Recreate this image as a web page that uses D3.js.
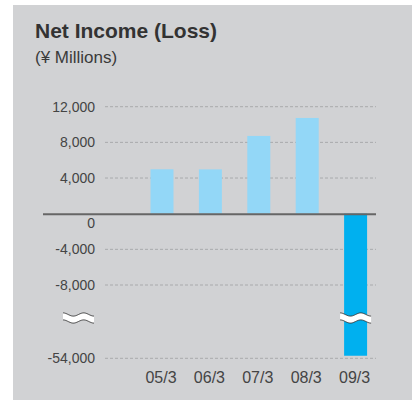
<!DOCTYPE html>
<html>
<head>
<meta charset="utf-8">
<script src="https://cdn.jsdelivr.net/npm/d3@7/dist/d3.min.js"></script>
<style>
  html, body { margin: 0; padding: 0; background: #fff; }
  svg { display: block; font-family: "Liberation Sans", Arial, Helvetica, sans-serif; }
</style>
</head>
<body>
<svg id="chart" width="412" height="400"></svg>
<script>
// Fiscal years (ending March) and net income, ¥ millions
const years = ["05/3", "06/3", "07/3", "08/3", "09/3"];
const netIncome = [4980, 4970, 8720, 10740, -52400];
const tickValues = [12000, 8000, 4000, 0, -4000, -8000, -54000];
const tickLabels = ["12,000", "8,000", "4,000", "0", "-4,000", "-8,000", "-54,000"];

const svg = d3.select("#chart");

// panel background
svg.append("rect").attr("x", 13).attr("y", 5).attr("width", 399).attr("height", 395)
  .attr("fill", "#d1d2d4");

svg.append("text").attr("x", 35).attr("y", 38)
  .attr("font-size", 21).attr("font-weight", "bold").attr("fill", "#333")
  .text("Net Income (Loss)");
svg.append("text").attr("x", 35).attr("y", 63)
  .attr("font-size", 17).attr("fill", "#3a3a3a")
  .text("(¥ Millions)");

// broken value axis: the stretch between -8,000 and -54,000 is compressed
const y = d3.scaleLinear()
  .domain([-54000, -8000, 12000])
  .range([358.3, 285, 106.7]);

const x = d3.scaleBand()
  .domain(years)
  .range([137.8, 379.8])
  .paddingInner(0.525)
  .paddingOuter(0.2625);

const gridLeft = 105, gridRight = 376;

// dashed gridlines (except zero)
svg.append("g").selectAll("line")
  .data(tickValues.filter(v => v !== 0))
  .join("line")
  .attr("x1", gridLeft).attr("x2", gridRight)
  .attr("y1", d => y(d)).attr("y2", d => y(d))
  .attr("stroke", "#a9aaac").attr("stroke-width", 1)
  .attr("stroke-dasharray", "3,2");

// value labels
svg.append("g").selectAll("text")
  .data(tickValues)
  .join("text")
  .attr("x", 95)
  .attr("y", d => y(d) + (d === 0 ? 14 : 5))
  .attr("text-anchor", "end")
  .attr("font-size", 14)
  .attr("fill", "#444")
  .text((d, i) => tickLabels[i]);

// bars
svg.append("g").selectAll("rect")
  .data(years.map((yr, i) => ({ yr, v: netIncome[i] })))
  .join("rect")
  .attr("x", d => x(d.yr))
  .attr("width", x.bandwidth())
  .attr("y", d => y(Math.max(0, d.v)))
  .attr("height", d => Math.abs(y(d.v) - y(0)))
  .attr("fill", d => d.v < 0 ? "#00b0ef" : "#93d7f7");

// zero line
svg.append("line")
  .attr("x1", 43).attr("x2", gridRight)
  .attr("y1", y(0) + 0.6).attr("y2", y(0) + 0.6)
  .attr("stroke", "#666").attr("stroke-width", 2);

// category labels
svg.append("g").selectAll("text")
  .data(years)
  .join("text")
  .attr("x", d => x(d) + x.bandwidth() / 2 - 1)
  .attr("y", 383)
  .attr("text-anchor", "middle")
  .attr("font-size", 16)
  .attr("fill", "#444")
  .text(d => d);

// axis-break marks (wavy white band)
function breakMark(x0, x1, cy) {
  const amp = 1.6, half = 3.5, n = 40;
  const wave = t => amp * Math.cos(t * Math.PI * 2 * 1.5);
  const top = d3.range(n + 1).map(i => {
    const t = i / n;
    return [x0 + t * (x1 - x0), cy - half - wave(t)];
  });
  const bottom = top.map(([px, py]) => [px, py + 2 * half]).reverse();
  const g = svg.append("g");
  g.append("path")
    .attr("d", d3.line()(top.concat(bottom)) + "Z")
    .attr("fill", "#fff");
  g.append("path").attr("d", d3.line()(top))
    .attr("fill", "none").attr("stroke", "#333").attr("stroke-width", 0.9);
  g.append("path").attr("d", d3.line()(bottom))
    .attr("fill", "none").attr("stroke", "#333").attr("stroke-width", 0.9);
}
const breakY = y(-8000) + 33;
breakMark(63, 94, breakY);
breakMark(x("09/3") - 4, x("09/3") + x.bandwidth() + 4, breakY);
</script>
</body>
</html>
